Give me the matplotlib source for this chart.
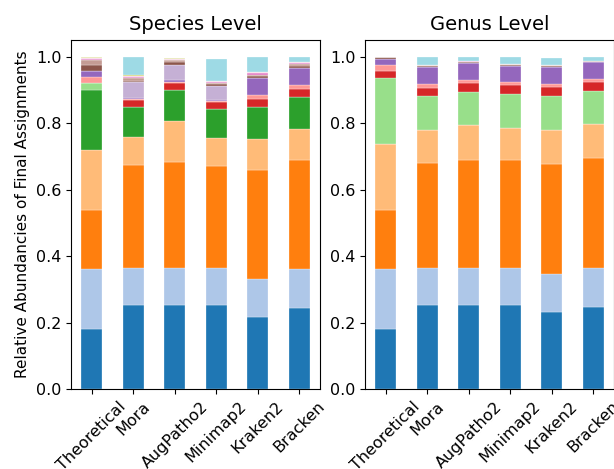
import numpy as np
import matplotlib
matplotlib.use('Agg')
import matplotlib.pyplot as plt

# Tools compared
tools = ['Theoretical', 'Mora', 'AugPatho2', 'Minimap2', 'Kraken2', 'Bracken']

# Species level abundances, one list per taxon (tab20 order), one value per tool
species = [
    [0.180, 0.252, 0.252, 0.252, 0.216, 0.244],
    [0.180, 0.113, 0.113, 0.113, 0.114, 0.116],
    [0.180, 0.308, 0.317, 0.305, 0.328, 0.328],
    [0.180, 0.084, 0.124, 0.085, 0.095, 0.095],
    [0.180, 0.090, 0.094, 0.087, 0.095, 0.095],
    [0.020, 0.000, 0.000, 0.000, 0.000, 0.000],
    [0.000, 0.021, 0.020, 0.021, 0.025, 0.025],
    [0.018, 0.004, 0.005, 0.003, 0.012, 0.011],
    [0.018, 0.004, 0.005, 0.002, 0.050, 0.051],
    [0.000, 0.047, 0.046, 0.044, 0.000, 0.000],
    [0.018, 0.005, 0.007, 0.006, 0.006, 0.006],
    [0.015, 0.008, 0.006, 0.004, 0.005, 0.006],
    [0.004, 0.002, 0.002, 0.003, 0.004, 0.003],
    [0.004, 0.003, 0.002, 0.003, 0.003, 0.003],
    [0.000, 0.001, 0.000, 0.000, 0.000, 0.000],
    [0.000, 0.001, 0.000, 0.000, 0.000, 0.000],
    [0.000, 0.001, 0.000, 0.000, 0.000, 0.000],
    [0.003, 0.001, 0.003, 0.000, 0.000, 0.000],
    [0.000, 0.000, 0.000, 0.000, 0.000, 0.000],
    [0.000, 0.053, 0.000, 0.064, 0.047, 0.017],
]

# Genus level abundances
genus = [
    [0.180, 0.252, 0.252, 0.252, 0.232, 0.248],
    [0.180, 0.113, 0.113, 0.113, 0.114, 0.115],
    [0.180, 0.315, 0.325, 0.323, 0.332, 0.331],
    [0.197, 0.100, 0.103, 0.098, 0.102, 0.103],
    [0.000, 0.000, 0.000, 0.000, 0.000, 0.000],
    [0.200, 0.101, 0.100, 0.102, 0.101, 0.100],
    [0.020, 0.026, 0.027, 0.027, 0.027, 0.028],
    [0.018, 0.010, 0.011, 0.010, 0.010, 0.009],
    [0.018, 0.051, 0.050, 0.048, 0.052, 0.051],
    [0.000, 0.000, 0.000, 0.000, 0.000, 0.000],
    [0.005, 0.004, 0.003, 0.003, 0.003, 0.002],
    [0.000, 0.002, 0.001, 0.001, 0.001, 0.001],
    [0.002, 0.002, 0.001, 0.000, 0.000, 0.000],
    [0.000, 0.000, 0.000, 0.000, 0.000, 0.000],
    [0.000, 0.000, 0.000, 0.000, 0.000, 0.000],
    [0.000, 0.000, 0.000, 0.000, 0.000, 0.000],
    [0.000, 0.000, 0.000, 0.000, 0.000, 0.000],
    [0.000, 0.000, 0.000, 0.000, 0.000, 0.000],
    [0.000, 0.000, 0.000, 0.000, 0.000, 0.000],
    [0.000, 0.024, 0.014, 0.023, 0.023, 0.012],
]

W, H = 614, 469
fig = plt.figure(figsize=(W / 100, H / 100), dpi=100)
ax1 = fig.add_axes([71 / W, 80 / H, 249 / W, 349 / H])
ax2 = fig.add_axes([365 / W, 80 / H, 249 / W, 349 / H])

colors = plt.get_cmap('tab20').colors
x = np.arange(len(tools))


def stacked(ax, data, title):
    bottom = np.zeros(len(tools))
    for i, vals in enumerate(data):
        vals = np.array(vals)
        ax.bar(x, vals, width=0.5, bottom=bottom, color=colors[i % 20],
               edgecolor='white', linewidth=0.2)
        bottom += vals
    ax.set_xlim(-0.5, len(tools) - 0.5)
    ax.set_ylim(0, 1.05)
    ax.set_xticks(x)
    ax.set_xticklabels(tools, rotation=45, fontsize=11.5)
    ax.set_yticks([0, 0.2, 0.4, 0.6, 0.8, 1.0])
    ax.set_yticklabels(['0.0', '0.2', '0.4', '0.6', '0.8', '1.0'], fontsize=11.5)
    ax.set_title(title, fontsize=14, pad=7)


stacked(ax1, species, 'Species Level')
stacked(ax2, genus, 'Genus Level')
ax1.set_ylabel('Relative Abundancies of Final Assignments', fontsize=11)

plt.savefig('out.png', dpi=100)
